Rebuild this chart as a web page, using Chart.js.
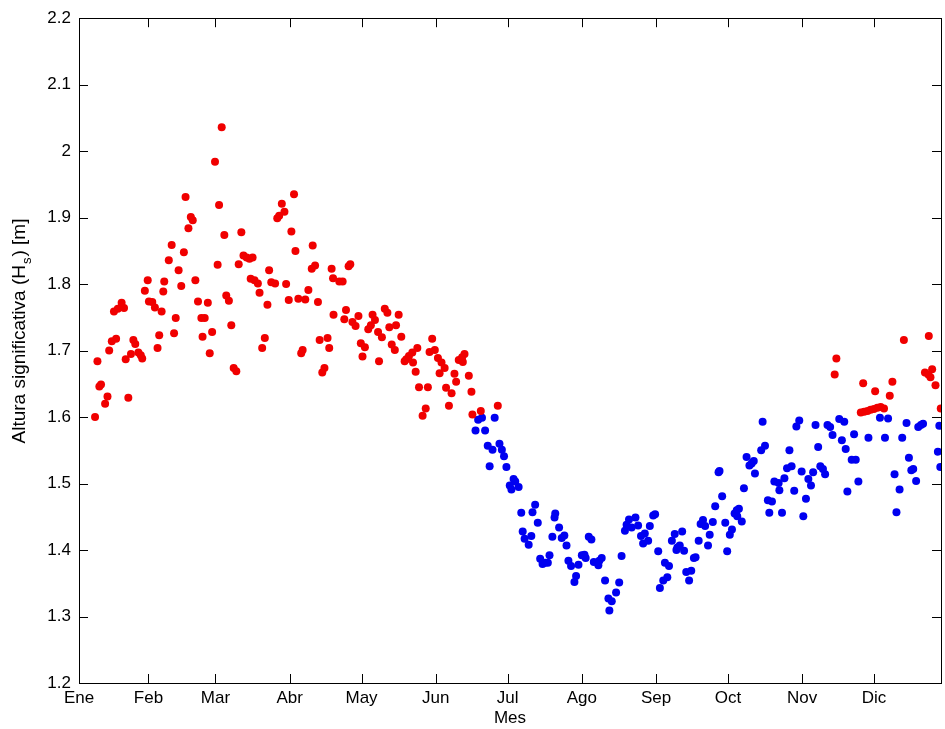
<!DOCTYPE html>
<html>
<head>
    <title>Altura significativa</title>
    <meta charset="utf-8" />
    <script src="https://cdn.jsdelivr.net/npm/chart.js"></script>
    <style>
        html, body { margin: 0; padding: 0; background: #fff; }
        #wrap { width: 945px; height: 729px; }
    </style>
</head>
<body>
    <div id="wrap"><canvas id="hsChart" width="945" height="729"></canvas></div>

    <script>
        // ejes: dia del año
        const monthNames = ['Ene', 'Feb', 'Mar', 'Abr', 'May', 'Jun', 'Jul', 'Ago', 'Sep', 'Oct', 'Nov', 'Dic'];
        const monthStarts = [1, 32, 60, 91, 121, 152, 182, 213, 244, 274, 305, 335];
        const dayMin = 3;
        const dayMax = 363;
        const hsTicks = [1.2, 1.3, 1.4, 1.5, 1.6, 1.7, 1.8, 1.9, 2.0, 2.1, 2.2];

        // Hs por encima de 1.6 m (rojo)
        const redDays = [
            9.7, 10.7, 11.5, 12.2, 13.9, 14.9, 15.6, 16.7, 17.6, 18.5, 19.2, 20.8, 21.8, 22.5, 23.6, 24.7,
            25.7, 26.5, 27.8, 28.8, 29.4, 30.5, 31.7, 32.2, 33.6, 34.7, 35.8, 36.5, 37.5, 38.2, 38.6, 40.5,
            41.7, 42.7, 43.4, 44.6, 45.7, 46.8, 47.5, 48.7, 49.7, 50.5, 51.6, 52.7, 54.1, 54.6, 55.5, 56.8,
            57.6, 58.6, 59.8, 60.9, 61.5, 62.6, 63.7, 64.5, 65.6, 66.6, 67.6, 68.7, 69.7, 70.8, 71.7, 73.0,
            74.2, 74.7, 75.5, 76.3, 77.7, 78.4, 79.5, 80.6, 81.7, 82.4, 83.3, 84.9, 85.8, 86.6, 87.7, 88.8,
            89.5, 90.6, 91.7, 92.8, 93.4, 94.6, 95.8, 96.4, 97.5, 98.8, 100.2, 100.6, 101.6, 102.8, 103.5, 104.6,
            105.5, 106.8, 107.5, 108.5, 109.1, 109.3, 111.7, 113.1, 113.8, 114.5, 115.6, 116.3, 117.2, 118.5, 119.7, 120.7,
            121.4, 122.4, 123.8, 124.9, 125.6, 126.6, 127.9, 128.3, 129.5, 130.7, 131.8, 132.6, 133.6, 134.9, 135.4, 136.5,
            137.6, 139.0, 139.7, 140.8, 142.2, 142.5, 143.6, 144.3, 145.0, 146.5, 147.8, 148.7, 149.4, 150.5, 151.6, 152.9,
            153.6, 154.4, 155.7, 156.3, 157.5, 158.6, 159.8, 160.5, 161.6, 163.0, 163.3, 164.0, 165.8, 166.9, 167.3, 170.8,
            177.9,
            318.6, 319.3, 329.5, 330.5, 330.9, 332.3, 333.6, 335.0, 335.5, 336.4, 337.8, 339.2, 341.6, 342.7, 347.5, 356.3,
            357.7, 357.9, 358.6, 359.3, 360.7, 362.9
        ];
        const redHs = [
            1.600, 1.684, 1.646, 1.649, 1.620, 1.631, 1.700, 1.714, 1.759, 1.718, 1.763, 1.772, 1.764, 1.687, 1.629, 1.695,
            1.716, 1.710, 1.697, 1.693, 1.688, 1.790, 1.806, 1.774, 1.773, 1.765, 1.704, 1.723, 1.759, 1.789, 1.804, 1.836,
            1.859, 1.726, 1.749, 1.821, 1.797, 1.848, 1.931, 1.884, 1.901, 1.896, 1.806, 1.774, 1.749, 1.721, 1.749, 1.772,
            1.696, 1.728, 1.984, 1.829, 1.919, 2.036, 1.874, 1.783, 1.775, 1.738, 1.674, 1.669, 1.830, 1.878, 1.843, 1.840,
            1.838, 1.808, 1.840, 1.806, 1.801, 1.787, 1.704, 1.719, 1.769, 1.821, 1.803, 1.801, 1.899, 1.903, 1.921, 1.909,
            1.800, 1.776, 1.879, 1.935, 1.850, 1.778, 1.696, 1.701, 1.777, 1.791, 1.823, 1.858, 1.828, 1.773, 1.716, 1.667,
            1.674, 1.719, 1.704, 1.823, 1.809, 1.754, 1.804, 1.804, 1.747, 1.761, 1.827, 1.830, 1.743, 1.737, 1.752, 1.711,
            1.691, 1.705, 1.732, 1.738, 1.754, 1.746, 1.728, 1.684, 1.720, 1.763, 1.757, 1.735, 1.709, 1.701, 1.738, 1.754,
            1.721, 1.684, 1.687, 1.692, 1.697, 1.682, 1.668, 1.704, 1.645, 1.602, 1.613, 1.645, 1.698, 1.718, 1.701, 1.689,
            1.666, 1.682, 1.674, 1.644, 1.617, 1.636, 1.665, 1.653, 1.686, 1.690, 1.683, 1.695, 1.662, 1.638, 1.604, 1.609,
            1.617,
            1.664, 1.688, 1.607, 1.651, 1.608, 1.609, 1.611, 1.612, 1.639, 1.614, 1.615, 1.613, 1.632, 1.653, 1.716, 1.667,
            1.664, 1.722, 1.660, 1.672, 1.648, 1.613
        ];

        // Hs por debajo de 1.6 m (azul)
        const blueDays = [
            168.6, 169.7, 171.3, 172.6, 173.7, 174.5, 175.7, 176.6, 178.6, 179.6, 180.5, 181.5, 182.9, 183.6, 184.5, 185.2,
            186.6, 187.7, 188.3, 189.1, 190.8, 191.9, 192.4, 193.5, 194.6, 195.6, 196.6, 197.7, 198.8, 199.5, 200.7, 201.6,
            201.9, 203.5, 204.6, 205.7, 206.6, 207.4, 208.5, 209.9, 210.6, 211.6, 213.0, 214.1, 214.6, 215.9, 217.0, 218.0,
            219.9, 220.3, 221.3, 222.7, 224.1, 224.5, 225.5, 227.3, 228.6, 229.6, 231.0, 231.7, 232.7, 233.8, 235.4, 236.5,
            237.7, 238.6, 239.3, 240.7, 241.4, 242.8, 243.6, 244.9, 245.6, 247.0, 247.7, 248.7, 249.4, 250.6, 251.8, 252.5,
            252.9, 253.9, 254.9, 255.7, 256.6, 257.8, 258.7, 259.8, 260.5, 261.8, 262.6, 263.6, 264.5, 265.7, 266.4, 267.7,
            268.7, 270.1, 270.5, 271.6, 272.9, 273.7, 274.8, 275.7, 276.8, 277.7, 277.9, 278.6, 279.8, 280.7, 281.8, 283.0,
            283.9, 284.8, 285.3, 287.9, 288.5, 289.5, 290.7, 291.3, 292.4, 293.4, 295.2, 295.5, 296.6, 297.6, 298.7, 299.7,
            300.6, 301.7, 302.6, 303.8, 304.8, 305.5, 306.6, 307.6, 308.7, 309.6, 310.6, 311.7, 312.6, 313.7, 314.6, 315.6,
            316.7, 317.7, 320.5, 321.6, 322.6, 323.2, 323.9, 325.7, 326.7, 327.4, 328.5, 332.7, 337.5, 339.6, 340.9, 343.6,
            344.4, 345.7, 346.8, 348.6, 349.6, 350.6, 351.4, 352.6, 353.5, 354.6, 355.5, 361.7, 362.3, 362.7
        ];
        const blueHs = [
            1.580, 1.596, 1.599, 1.580, 1.557, 1.526, 1.551, 1.599, 1.560, 1.551, 1.541, 1.525, 1.497, 1.491, 1.507, 1.503,
            1.495, 1.456, 1.428, 1.417, 1.408, 1.421, 1.457, 1.468, 1.441, 1.387, 1.379, 1.381, 1.381, 1.392, 1.420, 1.449,
            1.455, 1.434, 1.418, 1.422, 1.407, 1.384, 1.376, 1.352, 1.361, 1.378, 1.392, 1.393, 1.388, 1.420, 1.416, 1.382,
            1.377, 1.384, 1.388, 1.354, 1.327, 1.309, 1.323, 1.336, 1.351, 1.391, 1.429, 1.438, 1.446, 1.434, 1.449, 1.437,
            1.421, 1.410, 1.425, 1.414, 1.436, 1.452, 1.454, 1.398, 1.343, 1.354, 1.381, 1.359, 1.376, 1.414, 1.424, 1.400,
            1.404, 1.407, 1.428, 1.399, 1.367, 1.354, 1.369, 1.388, 1.389, 1.414, 1.439, 1.445, 1.436, 1.407, 1.423, 1.442,
            1.466, 1.517, 1.519, 1.481, 1.441, 1.398, 1.423, 1.431, 1.455, 1.460, 1.451, 1.462, 1.443, 1.493, 1.540, 1.527,
            1.530, 1.534, 1.515, 1.550, 1.593, 1.557, 1.475, 1.456, 1.473, 1.503, 1.501, 1.490, 1.456, 1.508, 1.523, 1.550,
            1.526, 1.489, 1.586, 1.595, 1.518, 1.451, 1.477, 1.507, 1.497, 1.517, 1.588, 1.555, 1.526, 1.522, 1.514, 1.588,
            1.585, 1.573, 1.597, 1.565, 1.593, 1.552, 1.488, 1.536, 1.574, 1.536, 1.503, 1.569, 1.599, 1.569, 1.598, 1.514,
            1.457, 1.491, 1.569, 1.591, 1.539, 1.520, 1.522, 1.504, 1.585, 1.588, 1.590, 1.548, 1.587, 1.525
        ];

        const toPoints = (xs, ys) => xs.map((x, i) => ({ x: x, y: ys[i] }));

        // cuadro y marcas hacia dentro, estilo matlab
        const boxPlugin = {
            id: 'boxPlugin',
            afterDraw(chart) {
                const ctx = chart.ctx;
                const a = chart.chartArea;
                const xs = chart.scales.x;
                const ys = chart.scales.y;
                const len = 9;
                ctx.save();
                ctx.strokeStyle = '#000';
                ctx.lineWidth = 1;
                ctx.beginPath();
                monthStarts.forEach(d => {
                    if (d <= dayMin) return;
                    const px = Math.round(xs.getPixelForValue(d)) + 0.5;
                    ctx.moveTo(px, a.bottom); ctx.lineTo(px, a.bottom - len);
                    ctx.moveTo(px, a.top); ctx.lineTo(px, a.top + len);
                });
                hsTicks.forEach(v => {
                    const py = Math.round(ys.getPixelForValue(v)) + 0.5;
                    ctx.moveTo(a.left, py); ctx.lineTo(a.left + len, py);
                    ctx.moveTo(a.right, py); ctx.lineTo(a.right - len, py);
                });
                ctx.stroke();
                ctx.strokeRect(Math.round(a.left) + 0.5, Math.round(a.top) + 0.5,
                    Math.round(a.right - a.left), Math.round(a.bottom - a.top));

                // etiqueta eje y con subindice
                const f = '19px "Liberation Sans", Arial, sans-serif';
                const fs = '13px "Liberation Sans", Arial, sans-serif';
                const p1 = 'Altura significativa (H', p2 = 's', p3 = ') [m]';
                ctx.font = f;
                const w1 = ctx.measureText(p1).width, w3 = ctx.measureText(p3).width;
                ctx.font = fs;
                const w2 = ctx.measureText(p2).width;
                const total = w1 + w2 + w3;
                ctx.translate(20, 332);
                ctx.rotate(-Math.PI / 2);
                ctx.fillStyle = '#000';
                ctx.textBaseline = 'middle';
                ctx.textAlign = 'left';
                let x0 = -total / 2;
                ctx.font = f;
                ctx.fillText(p1, x0, 0);
                ctx.font = fs;
                ctx.fillText(p2, x0 + w1 + 1, 7);
                ctx.font = f;
                ctx.fillText(p3, x0 + w1 + w2 + 2, 0);
                ctx.restore();
            }
        };

        Chart.defaults.font.family = '"Liberation Sans", Arial, sans-serif';
        Chart.defaults.font.size = 17;
        Chart.defaults.color = '#000';

        const ctx = document.getElementById('hsChart').getContext('2d');
        const hsChart = new Chart(ctx, {
            type: 'scatter',
            data: {
                datasets: [{
                    label: 'Hs > 1.6',
                    data: toPoints(redDays, redHs),
                    backgroundColor: '#f00000',
                    borderColor: '#f00000',
                    pointRadius: 4,
                    borderWidth: 0
                }, {
                    label: 'Hs < 1.6',
                    data: toPoints(blueDays, blueHs),
                    backgroundColor: '#0000f0',
                    borderColor: '#0000f0',
                    pointRadius: 4,
                    borderWidth: 0
                }]
            },
            options: {
                responsive: false,
                animation: false,
                devicePixelRatio: 1,
                layout: { padding: { top: 16, right: 2, left: 0, bottom: 0 } },
                plugins: {
                    legend: { display: false },
                    tooltip: { enabled: false }
                },
                scales: {
                    x: {
                        type: 'linear',
                        min: dayMin,
                        max: dayMax,
                        grid: { display: false, drawTicks: false },
                        border: { display: false },
                        afterBuildTicks: scale => {
                            scale.ticks = monthStarts.map(d => ({ value: Math.max(d, dayMin) }));
                        },
                        afterFit: scale => { scale.height = 46; },
                        ticks: {
                            autoSkip: false,
                            maxRotation: 0,
                            padding: 5,
                            callback: (v, i) => monthNames[i]
                        },
                        title: {
                            display: true,
                            text: 'Mes',
                            padding: { top: 0, bottom: 0 }
                        }
                    },
                    y: {
                        min: 1.2,
                        max: 2.2,
                        grid: { display: false, drawTicks: false },
                        border: { display: false },
                        afterBuildTicks: scale => {
                            scale.ticks = hsTicks.map(v => ({ value: v }));
                        },
                        afterFit: scale => { scale.width = 79; },
                        ticks: {
                            padding: 8,
                            callback: v => String(+v.toFixed(1))
                        }
                    }
                }
            },
            plugins: [boxPlugin]
        });
    </script>
</body>
</html>
